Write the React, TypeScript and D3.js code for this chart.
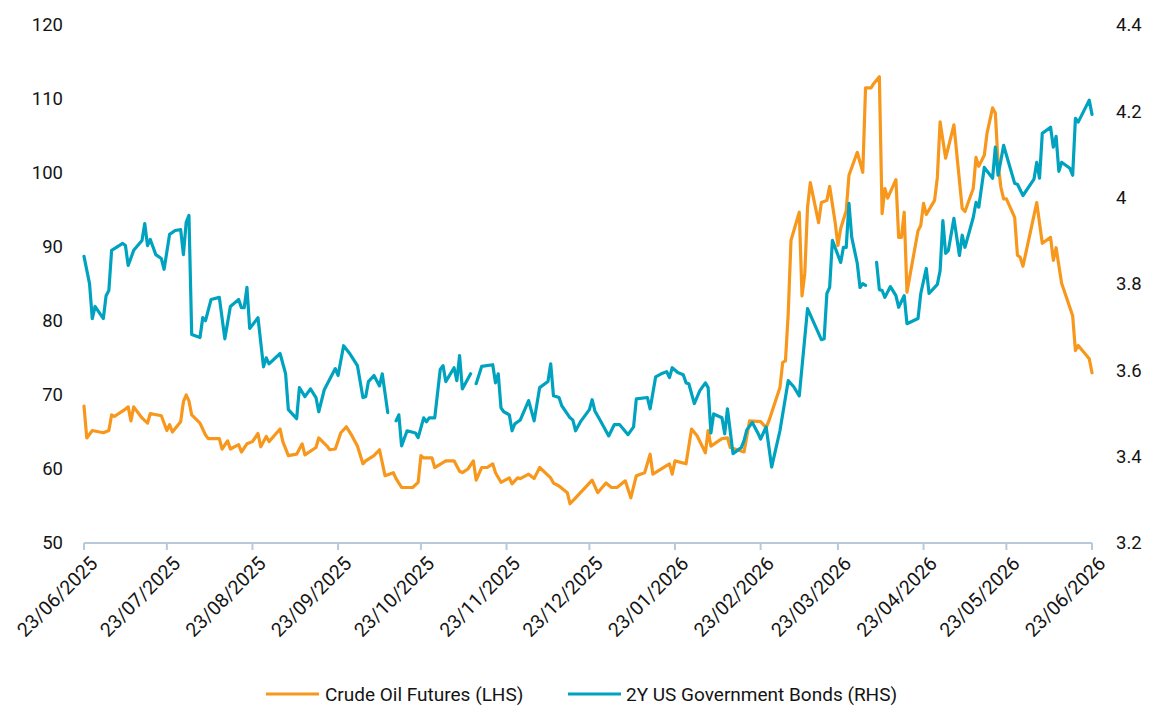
import React from "react";
import * as d3 from "d3";

const W = 1155;
const H = 708;

// Crude oil futures (LHS)
const oil: [string, number][] = [
  ["2025-06-23", 68.5], ["2025-06-24", 64.2], ["2025-06-26", 65.2], ["2025-06-30", 64.9], ["2025-07-02", 65.2],
  ["2025-07-03", 67.3], ["2025-07-04", 67.1], ["2025-07-08", 68.1], ["2025-07-09", 68.4], ["2025-07-10", 66.5],
  ["2025-07-11", 68.4], ["2025-07-14", 66.9], ["2025-07-16", 66.2], ["2025-07-17", 67.5], ["2025-07-21", 67.2],
  ["2025-07-23", 65.2], ["2025-07-24", 66.0], ["2025-07-25", 65.0], ["2025-07-28", 66.4], ["2025-07-29", 69.1],
  ["2025-07-30", 70.0], ["2025-07-31", 69.2], ["2025-08-01", 67.3], ["2025-08-04", 66.2], ["2025-08-06", 64.6],
  ["2025-08-07", 64.1], ["2025-08-11", 64.1], ["2025-08-12", 62.7], ["2025-08-14", 63.8], ["2025-08-15", 62.7],
  ["2025-08-18", 63.3], ["2025-08-19", 62.3], ["2025-08-21", 63.4], ["2025-08-23", 63.7], ["2025-08-25", 64.8],
  ["2025-08-26", 63.0], ["2025-08-28", 64.4], ["2025-08-29", 63.7], ["2025-09-02", 65.4], ["2025-09-03", 63.7],
  ["2025-09-05", 61.8], ["2025-09-08", 62.0], ["2025-09-10", 63.4], ["2025-09-11", 61.9], ["2025-09-15", 62.9],
  ["2025-09-16", 64.2], ["2025-09-19", 63.1], ["2025-09-20", 62.6], ["2025-09-22", 62.7], ["2025-09-24", 64.9],
  ["2025-09-26", 65.7], ["2025-09-28", 64.5], ["2025-09-30", 63.1], ["2025-10-02", 60.7], ["2025-10-03", 61.1],
  ["2025-10-06", 61.8], ["2025-10-08", 62.6], ["2025-10-10", 59.1], ["2025-10-13", 59.5], ["2025-10-14", 58.7],
  ["2025-10-16", 57.5], ["2025-10-20", 57.5], ["2025-10-22", 58.2], ["2025-10-23", 61.8], ["2025-10-24", 61.5],
  ["2025-10-27", 61.5], ["2025-10-28", 60.2], ["2025-11-01", 61.1], ["2025-11-04", 61.1], ["2025-11-06", 59.7],
  ["2025-11-07", 59.5], ["2025-11-09", 60.0], ["2025-11-11", 61.1], ["2025-11-12", 58.5], ["2025-11-14", 60.2],
  ["2025-11-16", 60.2], ["2025-11-18", 60.7], ["2025-11-19", 59.5], ["2025-11-21", 58.2], ["2025-11-24", 58.8],
  ["2025-11-25", 58.0], ["2025-11-27", 58.8], ["2025-11-28", 58.7], ["2025-12-01", 59.3], ["2025-12-03", 58.7],
  ["2025-12-05", 60.2], ["2025-12-09", 58.8], ["2025-12-10", 58.1], ["2025-12-12", 57.7], ["2025-12-15", 56.8],
  ["2025-12-16", 55.3], ["2025-12-18", 56.1], ["2025-12-24", 58.5], ["2025-12-26", 56.8], ["2025-12-29", 58.1],
  ["2025-12-31", 57.5], ["2026-01-02", 57.5], ["2026-01-05", 58.4], ["2026-01-07", 56.1], ["2026-01-09", 59.1],
  ["2026-01-12", 59.5], ["2026-01-14", 62.0], ["2026-01-15", 59.3], ["2026-01-21", 60.7], ["2026-01-22", 59.3],
  ["2026-01-23", 61.1], ["2026-01-27", 60.7], ["2026-01-29", 65.4], ["2026-01-31", 64.5], ["2026-02-03", 62.2],
  ["2026-02-04", 65.2], ["2026-02-05", 63.1], ["2026-02-09", 64.1], ["2026-02-11", 64.2], ["2026-02-12", 62.9],
  ["2026-02-17", 62.3], ["2026-02-19", 66.5], ["2026-02-23", 66.4], ["2026-02-25", 65.6], ["2026-02-26", 66.5],
  ["2026-03-02", 71.0], ["2026-03-03", 74.4], ["2026-03-04", 74.6], ["2026-03-05", 81.0], ["2026-03-06", 90.9],
  ["2026-03-09", 94.7], ["2026-03-10", 83.4], ["2026-03-11", 86.4], ["2026-03-12", 95.4], ["2026-03-13", 98.7],
  ["2026-03-16", 93.3], ["2026-03-17", 96.0], ["2026-03-19", 96.3], ["2026-03-20", 98.2], ["2026-03-22", 93.3],
  ["2026-03-23", 90.2], ["2026-03-24", 92.5], ["2026-03-26", 94.9], ["2026-03-27", 99.7], ["2026-03-30", 102.8],
  ["2026-04-01", 100.1], ["2026-04-02", 111.5], ["2026-04-04", 111.5], ["2026-04-05", 112.1], ["2026-04-07", 113.0],
  ["2026-04-08", 94.5], ["2026-04-09", 97.9], ["2026-04-10", 96.6], ["2026-04-13", 99.1], ["2026-04-14", 91.3],
  ["2026-04-15", 91.3], ["2026-04-16", 94.7], ["2026-04-17", 83.9], ["2026-04-21", 92.2], ["2026-04-22", 92.9],
  ["2026-04-23", 95.9], ["2026-04-24", 94.4], ["2026-04-27", 96.3], ["2026-04-28", 99.4], ["2026-04-29", 106.9],
  ["2026-05-01", 102.0], ["2026-05-04", 106.5], ["2026-05-07", 95.2], ["2026-05-08", 94.8], ["2026-05-11", 97.9],
  ["2026-05-12", 102.1], ["2026-05-13", 100.9], ["2026-05-15", 102.4], ["2026-05-16", 105.4], ["2026-05-18", 108.8],
  ["2026-05-19", 108.1], ["2026-05-20", 101.3], ["2026-05-21", 98.1], ["2026-05-22", 96.5], ["2026-05-23", 96.5],
  ["2026-05-26", 94.0], ["2026-05-27", 88.9], ["2026-05-28", 88.6], ["2026-05-29", 87.4], ["2026-06-03", 96.0],
  ["2026-06-05", 90.5], ["2026-06-08", 91.3], ["2026-06-09", 88.2], ["2026-06-10", 89.9], ["2026-06-12", 85.1],
  ["2026-06-16", 80.7], ["2026-06-17", 76.0], ["2026-06-18", 76.7], ["2026-06-22", 74.9], ["2026-06-23", 73.0],
];

// 2Y US government bond yield (RHS); null = missing data
const bond: [string, number | null][] = [
  ["2025-06-23", 3.864], ["2025-06-25", 3.801], ["2025-06-26", 3.72], ["2025-06-27", 3.748], ["2025-06-30", 3.72],
  ["2025-07-01", 3.773], ["2025-07-02", 3.785], ["2025-07-03", 3.878], ["2025-07-07", 3.894], ["2025-07-08", 3.889],
  ["2025-07-09", 3.843], ["2025-07-11", 3.878], ["2025-07-14", 3.901], ["2025-07-15", 3.94], ["2025-07-16", 3.889],
  ["2025-07-17", 3.903], ["2025-07-19", 3.868], ["2025-07-21", 3.859], ["2025-07-22", 3.834], ["2025-07-24", 3.915],
  ["2025-07-26", 3.924], ["2025-07-28", 3.926], ["2025-07-29", 3.868], ["2025-07-30", 3.943], ["2025-07-31", 3.959],
  ["2025-08-01", 3.683], ["2025-08-04", 3.676], ["2025-08-05", 3.722], ["2025-08-06", 3.715], ["2025-08-08", 3.764],
  ["2025-08-11", 3.769], ["2025-08-13", 3.673], ["2025-08-15", 3.748], ["2025-08-18", 3.764], ["2025-08-19", 3.745],
  ["2025-08-20", 3.745], ["2025-08-21", 3.792], ["2025-08-22", 3.697], ["2025-08-25", 3.722], ["2025-08-27", 3.608],
  ["2025-08-28", 3.629], ["2025-08-29", 3.615], ["2025-09-02", 3.639], ["2025-09-04", 3.592], ["2025-09-05", 3.509],
  ["2025-09-08", 3.488], ["2025-09-09", 3.56], ["2025-09-11", 3.539], ["2025-09-13", 3.557], ["2025-09-15", 3.537],
  ["2025-09-16", 3.504], ["2025-09-18", 3.555], ["2025-09-22", 3.604], ["2025-09-23", 3.588], ["2025-09-25", 3.657],
  ["2025-09-27", 3.641], ["2025-09-30", 3.611], ["2025-10-02", 3.537], ["2025-10-03", 3.539], ["2025-10-04", 3.574],
  ["2025-10-06", 3.588], ["2025-10-08", 3.564], ["2025-10-09", 3.592], ["2025-10-11", 3.502], ["2025-10-12", null],
  ["2025-10-14", 3.483], ["2025-10-15", 3.497], ["2025-10-16", 3.425], ["2025-10-18", 3.46], ["2025-10-21", 3.455],
  ["2025-10-22", 3.444], ["2025-10-24", 3.49], ["2025-10-25", 3.481], ["2025-10-26", 3.49], ["2025-10-28", 3.49],
  ["2025-10-30", 3.602], ["2025-10-31", 3.611], ["2025-11-01", 3.574], ["2025-11-04", 3.606], ["2025-11-05", 3.576],
  ["2025-11-06", 3.634], ["2025-11-07", 3.557], ["2025-11-10", 3.592], ["2025-11-11", null], ["2025-11-12", 3.569],
  ["2025-11-14", 3.609], ["2025-11-18", 3.613], ["2025-11-19", 3.571], ["2025-11-20", 3.592], ["2025-11-21", 3.513],
  ["2025-11-22", 3.504], ["2025-11-24", 3.497], ["2025-11-25", 3.46], ["2025-11-26", 3.476], ["2025-11-28", 3.485],
  ["2025-12-01", 3.53], ["2025-12-03", 3.483], ["2025-12-05", 3.56], ["2025-12-08", 3.574], ["2025-12-09", 3.615],
  ["2025-12-10", 3.541], ["2025-12-12", 3.537], ["2025-12-13", 3.518], ["2025-12-16", 3.49], ["2025-12-17", 3.485],
  ["2025-12-18", 3.46], ["2025-12-20", 3.483], ["2025-12-23", 3.509], ["2025-12-24", 3.532], ["2025-12-25", 3.506],
  ["2025-12-27", 3.483], ["2025-12-30", 3.448], ["2026-01-01", 3.474], ["2026-01-03", 3.474], ["2026-01-06", 3.451],
  ["2026-01-08", 3.469], ["2026-01-09", 3.534], ["2026-01-13", 3.537], ["2026-01-14", 3.511], ["2026-01-16", 3.585],
  ["2026-01-18", 3.592], ["2026-01-20", 3.597], ["2026-01-21", 3.583], ["2026-01-22", 3.606], ["2026-01-24", 3.595],
  ["2026-01-26", 3.59], ["2026-01-27", 3.571], ["2026-01-28", 3.569], ["2026-01-30", 3.523], ["2026-02-01", 3.553],
  ["2026-02-03", 3.571], ["2026-02-04", 3.56], ["2026-02-05", 3.455], ["2026-02-06", 3.499], ["2026-02-09", 3.49],
  ["2026-02-10", 3.453], ["2026-02-11", 3.511], ["2026-02-13", 3.407], ["2026-02-16", 3.421], ["2026-02-17", 3.437],
  ["2026-02-18", 3.462], ["2026-02-20", 3.479], ["2026-02-22", 3.455], ["2026-02-23", 3.441], ["2026-02-25", 3.469],
  ["2026-02-27", 3.376], ["2026-03-02", 3.46], ["2026-03-05", 3.576], ["2026-03-07", 3.562], ["2026-03-09", 3.541],
  ["2026-03-12", 3.743], ["2026-03-17", 3.671], ["2026-03-18", 3.673], ["2026-03-19", 3.778], ["2026-03-20", 3.792],
  ["2026-03-21", 3.901], ["2026-03-24", 3.85], ["2026-03-25", 3.885], ["2026-03-26", 3.885], ["2026-03-27", 3.987],
  ["2026-03-28", 3.908], ["2026-03-30", 3.848], ["2026-03-31", 3.792], ["2026-04-01", 3.801], ["2026-04-02", 3.797],
  ["2026-04-04", null], ["2026-04-06", 3.85], ["2026-04-07", 3.787], ["2026-04-08", 3.785], ["2026-04-09", 3.769],
  ["2026-04-11", 3.794], ["2026-04-13", 3.773], ["2026-04-14", 3.746], ["2026-04-16", 3.773], ["2026-04-17", 3.708],
  ["2026-04-21", 3.72], ["2026-04-22", 3.778], ["2026-04-24", 3.836], ["2026-04-25", 3.778], ["2026-04-28", 3.799],
  ["2026-04-29", 3.831], ["2026-04-30", 3.947], ["2026-05-01", 3.871], ["2026-05-02", 3.878], ["2026-05-04", 3.952],
  ["2026-05-06", 3.866], ["2026-05-07", 3.913], ["2026-05-08", 3.885], ["2026-05-11", 3.954], ["2026-05-12", 3.989],
  ["2026-05-13", 3.978], ["2026-05-15", 4.07], ["2026-05-18", 4.045], ["2026-05-19", 4.117], ["2026-05-20", 4.052],
  ["2026-05-22", 4.121], ["2026-05-26", 4.033], ["2026-05-27", 4.031], ["2026-05-29", 4.005], ["2026-06-02", 4.043],
  ["2026-06-03", 4.082], ["2026-06-04", 4.045], ["2026-06-05", 4.149], ["2026-06-08", 4.163], ["2026-06-09", 4.117],
  ["2026-06-10", 4.142], ["2026-06-11", 4.061], ["2026-06-12", 4.082], ["2026-06-15", 4.068], ["2026-06-16", 4.052],
  ["2026-06-17", 4.184], ["2026-06-18", 4.175], ["2026-06-22", 4.226], ["2026-06-23", 4.193],
];

const xTickDates = [
  "2025-06-23", "2025-07-23", "2025-08-23", "2025-09-23", "2025-10-23", "2025-11-23", "2025-12-23",
  "2026-01-23", "2026-02-23", "2026-03-23", "2026-04-23", "2026-05-23", "2026-06-23",
];
const leftTicks = [50, 60, 70, 80, 90, 100, 110, 120];
const rightTicks = [3.2, 3.4, 3.6, 3.8, 4.0, 4.2, 4.4];
const seriesNames = ["Crude Oil Futures (LHS)", "2Y US Government Bonds (RHS)"];
const seriesColors = ["#F7981D", "#00A3BF"];

const FONT = "Roboto, 'Noto Sans', sans-serif";
const TEXT = "#141414";

export default function App() {
  const parse = d3.timeParse("%Y-%m-%d");
  const fmtTick = d3.timeFormat("%d/%m/%Y");
  const x = d3
    .scaleTime()
    .domain([parse("2025-06-23") as Date, parse("2026-06-23") as Date])
    .range([84, 1092]);
  const yL = d3.scaleLinear().domain([50, 120]).range([543, 25]);
  const yR = d3.scaleLinear().domain([3.2, 4.4]).range([543, 25]);

  const oilLine = d3
    .line<[string, number]>()
    .x((d) => x(parse(d[0]) as Date))
    .y((d) => yL(d[1]));
  const bondLine = d3
    .line<[string, number | null]>()
    .defined((d) => d[1] != null)
    .x((d) => x(parse(d[0]) as Date))
    .y((d) => yR(d[1] as number));

  const fmtR = (v: number) => String(+v.toFixed(1));
  const axisY = yL(50);

  return (
    <svg
      width={W}
      height={H}
      style={{ position: "absolute", left: 0, top: 0, background: "#fff" }}
      fontFamily={FONT}
    >
      {/* left axis labels */}
      {leftTicks.map((v) => (
        <text key={"l" + v} x={63} y={yL(v)} dy="0.35em" textAnchor="end" fontSize={18.5} fill={TEXT}>
          {v}
        </text>
      ))}
      {/* right axis labels */}
      {rightTicks.map((v) => (
        <text key={"r" + v} x={1116} y={yR(v)} dy="0.35em" textAnchor="start" fontSize={18.5} fill={TEXT}>
          {fmtR(v)}
        </text>
      ))}
      {/* x axis */}
      <line x1={x.range()[0]} x2={x.range()[1]} y1={axisY} y2={axisY} stroke="#B9C9D9" strokeWidth={2} />
      {xTickDates.map((s) => {
        const d = parse(s) as Date;
        const tx = x(d);
        return (
          <g key={s}>
            <line x1={tx} x2={tx} y1={axisY} y2={axisY + 7} stroke="#B9C9D9" strokeWidth={2} />
            <text
              transform={`translate(${tx + 5},${axisY + 12}) rotate(-45)`}
              textAnchor="end"
              dy="0.7em"
              fontSize={19.5}
              fill={TEXT}
            >
              {fmtTick(d)}
            </text>
          </g>
        );
      })}
      {/* series */}
      <path d={oilLine(oil) || ""} fill="none" stroke={seriesColors[0]} strokeWidth={3.2} strokeLinejoin="round" strokeLinecap="round" />
      <path d={bondLine(bond) || ""} fill="none" stroke={seriesColors[1]} strokeWidth={3.2} strokeLinejoin="round" strokeLinecap="round" />
      {/* legend */}
      <g>
        <line x1={266} x2={319} y1={694} y2={694} stroke={seriesColors[0]} strokeWidth={3} />
        <text x={325} y={694} dy="0.35em" fontSize={19} fill={TEXT}>
          {seriesNames[0]}
        </text>
        <line x1={568} x2={621} y1={694} y2={694} stroke={seriesColors[1]} strokeWidth={3} />
        <text x={626} y={694} dy="0.35em" fontSize={19} fill={TEXT}>
          {seriesNames[1]}
        </text>
      </g>
    </svg>
  );
}
